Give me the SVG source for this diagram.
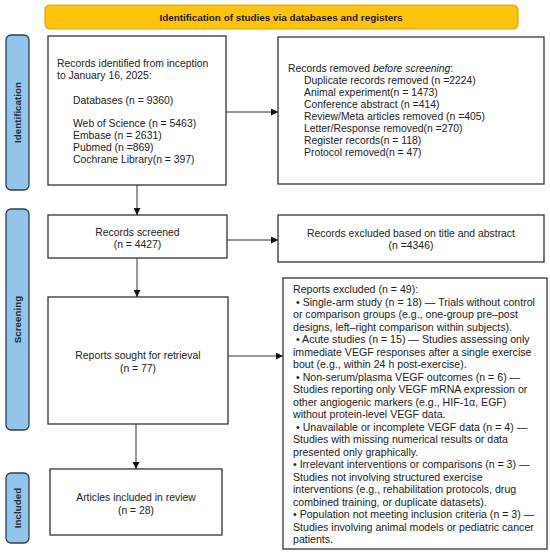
<svg xmlns="http://www.w3.org/2000/svg" width="550" height="556" viewBox="0 0 550 556">
<defs>
<marker id="ah" viewBox="0 0 10 10" refX="10" refY="5" markerWidth="7" markerHeight="7" markerUnits="userSpaceOnUse" orient="auto"><path d="M0,0 L10,5 L0,10 z" fill="#111"/></marker>
<style>
.box{fill:#fff;stroke:#333;stroke-width:1.3}
.side{fill:#93C5EA;stroke:#2B3E52;stroke-width:1.3}
.t{font-family:"Liberation Sans",Arial,sans-serif;font-size:10.4px;fill:#222}
.r{font-size:10.6px}
.c{text-anchor:middle}
.sl{font-family:"Liberation Sans",Arial,sans-serif;font-size:9.8px;font-weight:bold;fill:#1c2733;text-anchor:middle}
.conn{stroke:#333;stroke-width:1;fill:none;marker-end:url(#ah)}
</style>
</defs>
<rect width="550" height="556" fill="#fff"/>
<g id="banner">
<rect x="45" y="5" width="473" height="24" rx="5" fill="#FFC20E" stroke="#D9A21B" stroke-width="1.2"/>
<text x="281" y="21" class="t c" style="font-weight:bold;fill:#1a1a1a;font-size:9.9px">Identification of studies via databases and registers</text>
</g>
<g id="side-identification">
<rect x="6" y="35" width="23" height="155" rx="5" class="side"/>
<text class="sl" transform="translate(21,112.5) rotate(-90)">Identification</text>
</g>
<g id="side-screening">
<rect x="6" y="209" width="23" height="221" rx="5" class="side"/>
<text class="sl" transform="translate(21,319.5) rotate(-90)">Screening</text>
</g>
<g id="side-included">
<rect x="6" y="473" width="23" height="70" rx="5" class="side"/>
<text class="sl" transform="translate(21,508) rotate(-90)">Included</text>
</g>
<g id="records-identified">
<rect x="48" y="36" width="178" height="149" class="box"/>
<text class="t" x="57" y="67">Records identified from inception</text>
<text class="t" x="57" y="78.5">to January 16, 2025:</text>
<text class="t" x="73" y="104">Databases (n = 9360)</text>
<text class="t" x="73" y="127">Web of Science (n = 5463)</text>
<text class="t" x="73" y="139">Embase (n = 2631)</text>
<text class="t" x="73" y="151">Pubmed (n =869)</text>
<text class="t" x="73" y="162.5">Cochrane Library(n = 397)</text>
</g>
<g id="records-removed">
<rect x="278" y="37" width="266" height="147" class="box"/>
<text class="t" x="288" y="72">Records removed <tspan font-style="italic">before screening</tspan>:</text>
<text class="t" x="304" y="84">Duplicate records removed  (n =2224)</text>
<text class="t" x="304" y="96">Animal experiment(n = 1473)</text>
<text class="t" x="304" y="108">Conference abstract (n =414)</text>
<text class="t" x="304" y="120">Review/Meta articles removed (n =405)</text>
<text class="t" x="304" y="132">Letter/Response removed(n =270)</text>
<text class="t" x="304" y="144">Register records(n = 118)</text>
<text class="t" x="304" y="156">Protocol removed(n = 47)</text>
</g>
<g id="records-screened">
<rect x="48" y="215" width="179" height="43" class="box"/>
<text class="t c" x="137.5" y="236">Records screened</text>
<text class="t c" x="137.5" y="247.5">(n = 4427)</text>
</g>
<g id="records-excluded">
<rect x="278" y="215" width="266" height="47" class="box"/>
<text class="t c" x="411" y="237">Records excluded based on title and abstract</text>
<text class="t c" x="411" y="248.5">(n =4346)</text>
</g>
<g id="reports-sought">
<rect x="48" y="297" width="180" height="127" class="box"/>
<text class="t c" x="138" y="359">Reports sought for retrieval</text>
<text class="t c" x="138" y="371.5">(n = 77)</text>
</g>
<g id="reports-excluded">
<rect x="283" y="278" width="264" height="271" class="box"/>
<text class="t r" x="293" y="293">Reports excluded (n = 49):</text>
<text class="t r" x="296" y="305.5">• Single-arm study (n = 18) — Trials without control</text>
<text class="t r" x="293" y="318">or comparison groups (e.g., one-group pre–post</text>
<text class="t r" x="293" y="330.5">designs, left–right comparison within subjects).</text>
<text class="t r" x="296" y="343">• Acute studies (n = 15) — Studies assessing only</text>
<text class="t r" x="293" y="355.5">immediate VEGF responses after a single exercise</text>
<text class="t r" x="293" y="368">bout (e.g., within 24 h post-exercise).</text>
<text class="t r" x="296" y="380.5">• Non-serum/plasma VEGF outcomes (n = 6) —</text>
<text class="t r" x="293" y="393">Studies reporting only VEGF mRNA expression or</text>
<text class="t r" x="293" y="405.5">other angiogenic markers (e.g., HIF-1α, EGF)</text>
<text class="t r" x="293" y="418">without protein-level VEGF data.</text>
<text class="t r" x="296" y="430.5">• Unavailable or incomplete VEGF data (n = 4) —</text>
<text class="t r" x="293" y="443">Studies with missing numerical results or data</text>
<text class="t r" x="293" y="455.5">presented only graphically.</text>
<text class="t r" x="293" y="468">• Irrelevant interventions or comparisons (n = 3) —</text>
<text class="t r" x="293" y="480.5">Studies not involving structured exercise</text>
<text class="t r" x="293" y="493">interventions (e.g., rehabilitation protocols, drug</text>
<text class="t r" x="293" y="505.5">combined training, or duplicate datasets).</text>
<text class="t r" x="293" y="518">• Population not meeting inclusion criteria (n = 3) —</text>
<text class="t r" x="293" y="530.5">Studies involving animal models or pediatric cancer</text>
<text class="t r" x="293" y="543">patients.</text>
</g>
<g id="articles-included">
<rect x="50" y="469" width="172" height="66" class="box"/>
<text class="t c" x="136" y="501">Articles included in review</text>
<text class="t c" x="136" y="513.5">(n = 28)</text>
</g>
<g id="connectors">
<line class="conn" x1="226" y1="112" x2="278" y2="112"/>
<line class="conn" x1="137" y1="185" x2="137" y2="215"/>
<line class="conn" x1="227" y1="240" x2="278" y2="240"/>
<line class="conn" x1="137" y1="258" x2="137" y2="297"/>
<line class="conn" x1="228" y1="356" x2="283" y2="356"/>
<line class="conn" x1="136" y1="424" x2="136" y2="469"/>
</g>
</svg>
